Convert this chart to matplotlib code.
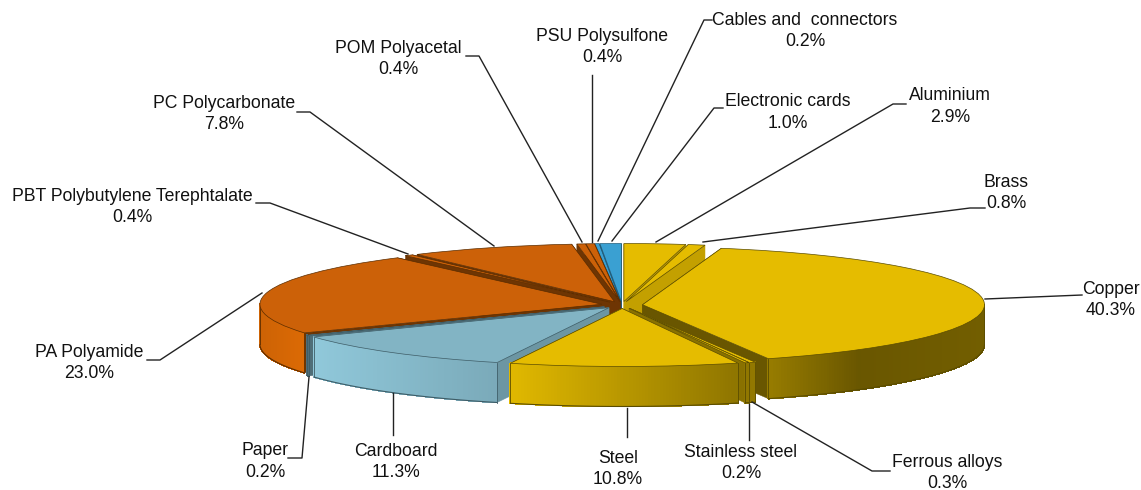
import numpy as np
import matplotlib
matplotlib.use("Agg")
import matplotlib.pyplot as plt
from matplotlib.collections import PolyCollection
from matplotlib.colors import to_rgb

names = ["Aluminium", "Brass", "Copper", "Ferrous alloys", "Stainless steel", "Steel",
         "Cardboard", "Paper", "PA Polyamide", "PBT Polybutylene Terephtalate",
         "PC Polycarbonate", "POM Polyacetal", "PSU Polysulfone",
         "Cables and  connectors", "Electronic cards"]
values = [2.9, 0.8, 40.3, 0.3, 0.2, 10.8, 11.3, 0.2, 23.0, 0.4, 7.8, 0.4, 0.4, 0.2, 1.0]
groups = ["gold"] * 6 + ["teal"] * 2 + ["orange"] * 5 + ["blue"] * 2

TOP = {"gold": "#E5BC00", "teal": "#82B4C4", "orange": "#CC6108", "blue": "#3AA0D2"}
WALL = {"gold": "#E5BC00", "teal": "#90C8DA", "orange": "#DC6A05", "blue": "#3AA0D2"}
EDGE = {"gold": "#5A4C00", "teal": "#3E5C66", "orange": "#5A2C00", "blue": "#1E5A78"}
face_shade = [0.85, 0.85, 0.46, 0.5, 0.6, 0.6, 0.75, 0.55, 0.5, 0.5, 0.5, 0.5, 0.5, 0.5, 0.5]

W, H = 1141, 490
CX, CY, RX, RY = 622, 305, 342, 58
DEPTH = 40 / RY
EXPLODE = 0.06

label_xy = [(950, 106.5), (1006, 193), (1111, 300), (947, 473), (741, 463), (618, 469),
            (396, 462), (265, 461.5), (89, 363), (132, 207), (224, 114), (398, 59),
            (602, 47), (805, 31), (788, 112.5)]
leaders = [
    [(906, 104), (893, 104), (656, 242)],
    [(985, 208), (970, 208), (703, 242)],
    [(1082, 295), (985, 299)],
    [(890, 471), (872, 471), (752, 402)],
    [(749, 440), (749, 404)],
    [(627, 437), (627, 408)],
    [(393, 435), (393, 393)],
    [(288, 458), (302, 458), (309, 377)],
    [(147, 360), (160, 360), (262, 293)],
    [(256, 203), (270, 203), (408, 254)],
    [(297, 112), (310, 112), (494, 246)],
    [(466, 56), (479, 56), (582, 242)],
    [(592, 75), (592, 242)],
    [(712, 20), (704, 20), (598, 241)],
    [(723, 108), (714, 108), (612, 241)],
]

def dx(px):
    return (np.asarray(px, float) - CX) / RX

def dy(py):
    return (CY - np.asarray(py, float)) / RY

def shade(c, f):
    return tuple(min(1, v * f) for v in to_rgb(c))

def wall_light(xdata, group, value):
    px = CX + xdata * RX
    if group == "gold":
        return np.interp(px, [512, 740, 770, 860, 985], [0.98, 0.62, 0.66, 0.46, 0.50])
    if group == "teal":
        if value < 1:
            return 0.55
        return np.interp(px, [315, 497], [1.0, 0.85])
    if group == "orange":
        return np.interp(px, [261, 305], [0.93, 1.0])
    return 0.8

fig = plt.figure(figsize=(W / 100, H / 100), dpi=100, facecolor="white")
ax = fig.add_axes([0, 0, 1, 1])
plt.rcParams["font.family"] = ["Liberation Sans", "DejaVu Sans"]

wedges, _ = ax.pie(values, explode=[EXPLODE] * len(values), startangle=90, counterclock=False,
                   colors=[TOP[g] for g in groups], radius=1,
                   wedgeprops=dict(edgecolor="none", linewidth=0))
ax.set_aspect("auto")
ax.set_xlim(dx(0), dx(W))
ax.set_ylim(dy(H), dy(0))
ax.axis("off")

mids = [0.5 * (w.theta1 + w.theta2) for w in wedges]
cys = [np.sin(np.radians(m)) for m in mids]
order = np.argsort(cys)[::-1]

for z, i in enumerate(order):
    w, g = wedges[i], groups[i]
    base = 10 + z * 5
    cx, cy = w.center
    t1, t2 = w.theta1, w.theta2
    edge = EDGE[g]
    # radial side faces
    for t in (t1, t2):
        ex, ey = cx + np.cos(np.radians(t)), cy + np.sin(np.radians(t))
        ax.fill([cx, ex, ex, cx], [cy, ey, ey - DEPTH, cy - DEPTH],
                color=shade(WALL[g], face_shade[i]), lw=0.3, zorder=base)
    # outer rim: only the part facing the viewer
    lo, hi = max(t1, 180), min(t2, 360)
    for shift in (0, 360):
        a, b = max(t1 + shift, 180), min(t2 + shift, 360)
        if b > a:
            lo, hi = a, b
    if hi > lo:
        ts = np.radians(np.linspace(lo, hi, max(3, int((hi - lo) * 2))))
        xs, ys = cx + np.cos(ts), cy + np.sin(ts)
        quads = [[(xs[k], ys[k]), (xs[k + 1], ys[k + 1]),
                  (xs[k + 1], ys[k + 1] - DEPTH), (xs[k], ys[k] - DEPTH)]
                 for k in range(len(ts) - 1)]
        cols = [shade(WALL[g], wall_light(0.5 * (xs[k] + xs[k + 1]), g, values[i]))
                for k in range(len(ts) - 1)]
        ax.add_collection(PolyCollection(quads, facecolors=cols, edgecolors=cols,
                                         linewidths=0.6, antialiaseds=False, zorder=base + 1))
        ax.plot(xs, ys - DEPTH, color=edge, lw=0.8, zorder=base + 2, solid_capstyle="butt")
        ax.plot([xs[0], xs[0]], [ys[0], ys[0] - DEPTH], color=edge, lw=0.6, zorder=base + 2)
        ax.plot([xs[-1], xs[-1]], [ys[-1], ys[-1] - DEPTH], color=edge, lw=0.6, zorder=base + 2)
    # top face
    w.set_zorder(base + 3)
    w.set_edgecolor(edge)
    w.set_linewidth(0.5)

for pts in leaders:
    p = np.array(pts, float)
    ax.plot(dx(p[:, 0]), dy(p[:, 1]), color="#222222", lw=1.0, zorder=500)

for name, v, (x, y) in zip(names, values, label_xy):
    ax.text(dx(x), dy(y), f"{name}\n{v:.1f}%", ha="center", va="center", fontsize=12.7,
            color="#111111", linespacing=1.33, zorder=600)

fig.savefig("out.png", dpi=100, facecolor="white")
